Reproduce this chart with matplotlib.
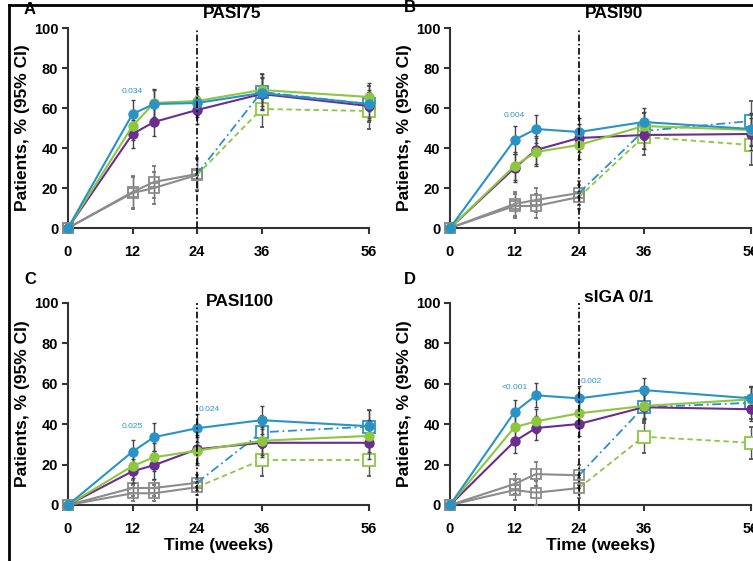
import numpy as np
import matplotlib.pyplot as plt
from matplotlib.lines import Line2D

plt.rcParams['font.family'] = ['Liberation Sans', 'DejaVu Sans']
plt.rcParams['font.weight'] = 'bold'

# ==========================================================
# DATA
# ==========================================================

weeks_main = [0, 12, 16, 24, 36, 56]
weeks_placebo = [0, 12, 16, 24]
weeks_switch = [24, 36, 56]
xticks = [0, 12, 24, 36, 56]

titles = ['PASI75', 'PASI90', 'PASI100', 'sIGA 0/1']
panel_letters = ['A', 'B', 'C', 'D']

blue_vals = [
    [0, 57, 62, 62.5, 67.5, 62],
    [0, 44, 49.5, 48, 53, 49.5],
    [0, 26.4, 33.6, 38, 42, 39],
    [0, 46, 54.3, 52.8, 56.9, 52.8],
]
green_vals = [
    [0, 51, 62.5, 63.5, 69, 65.5],
    [0, 31, 38, 41.5, 51, 49],
    [0, 19.3, 23.6, 26.9, 31.8, 34.2],
    [0, 38.5, 41.4, 45.4, 49, 52.3],
]
purple_vals = [
    [0, 47, 53, 59, 67, 61],
    [0, 30, 39, 45, 46.5, 47],
    [0, 16.7, 19.7, 27.6, 30.8, 30.8],
    [0, 31.5, 38.1, 40.1, 48.4, 47.4],
]
placebo_a = [
    [0, 18, 23, 27],
    [0, 12, 14, 17.5],
    [0, 8.4, 8.4, 11],
    [0, 10.4, 15.3, 14.7],
]
placebo_b = [
    [0, 17.5, 20, 26.5],
    [0, 11, 11, 15.5],
    [0, 5.8, 5.8, 8.8],
    [0, 7.4, 6.1, 8.4],
]
switch_blue = [
    [27, 68, 62],
    [17.5, 48.5, 53.5],
    [11, 36, 38.8],
    [14.7, 48.4, 50.6],
]
switch_green = [
    [26.5, 59.5, 58.5],
    [15.5, 45.5, 41.5],
    [8.8, 22.3, 22.3],
    [8.4, 33.8, 30.8],
]

# CI half-widths
ci_active = [
    [0, 7, 7, 7, 8, 7],
    [0, 7, 7, 7, 7, 8],
    [0, 6, 7, 7, 7, 8],
    [0, 6, 6, 6, 6, 6],
]
ci_placebo = [
    [0, 8, 8, 8],
    [0, 6, 6, 6],
    [0, 4, 4, 4],
    [0, 5, 6, 5],
]
ci_switch = [
    [0, 9, 9],
    [0, 9, 10],
    [0, 8, 8],
    [0, 8, 8],
]

# p-value labels: (x, y, text)
pvals = [
    [(12, 66.5, '0.034')],
    [(12, 54.5, '0.004')],
    [(12, 37, '0.025'), (24.3, 45.5, '0.024')],
    [(12, 56.5, '<0.001'), (24.3, 59.5, '0.002')],
]

# ==========================================================
# STYLE
# ==========================================================

BLUE = '#2a93c6'
GREEN = '#8dc63f'
PURPLE = '#6b2d8f'
GRAY = '#8c8c8c'
AXIS = '#333333'

fig = plt.figure(figsize=(7.53, 5.61), dpi=100)

W, H = 753.0, 561.0
axes_px = [
    (68, 228, 200),
    (450, 228, 200),
    (68, 505, 202),
    (450, 505, 202),
]
width_px = 301

for k in range(4):
    x0, y0, h = axes_px[k]
    ax = fig.add_axes([x0 / W, 1 - y0 / H, width_px / W, h / H])

    err_kw = dict(elinewidth=1.0, capsize=1.5, capthick=1.0, clip_on=False)

    # placebo arms
    for vals, ci in [(placebo_a[k], ci_placebo[k]), (placebo_b[k], ci_placebo[k])]:
        ax.errorbar(weeks_placebo, vals, yerr=ci, color=GRAY, ecolor='#777777',
                    marker='s', markersize=7, markerfacecolor='none',
                    markeredgewidth=1.3, linewidth=1.5, zorder=3, **err_kw)

    # switch arms
    ax.errorbar(weeks_switch, switch_blue[k], yerr=ci_switch[k], color=BLUE,
                ecolor='#555555', linestyle=(0, (5, 2, 1, 2)), marker='s',
                markersize=8, markerfacecolor='white', markeredgewidth=1.3,
                linewidth=1.3, zorder=4, markevery=[1, 2], **err_kw)
    ax.errorbar(weeks_switch, switch_green[k], yerr=ci_switch[k], color=GREEN,
                ecolor='#555555', linestyle=(0, (3, 2)), marker='s',
                markersize=8, markerfacecolor='white', markeredgewidth=1.3,
                linewidth=1.3, zorder=4, markevery=[1, 2], **err_kw)

    # active arms
    for vals, col in [(purple_vals[k], PURPLE), (green_vals[k], GREEN),
                      (blue_vals[k], BLUE)]:
        ax.errorbar(weeks_main, vals, yerr=ci_active[k], color=col,
                    ecolor='#444444', marker='o', markersize=6.5,
                    linewidth=1.5, zorder=5, **err_kw)

    # week 24 line
    ax.axvline(24, ymin=0, ymax=1.0, color='black', linestyle=(0, (4, 1.5, 1, 1.5)),
               linewidth=1.2, zorder=6)

    for x, y, t in pvals[k]:
        ax.text(x, y, t, color=BLUE, fontsize=6, fontweight='normal',
                ha='center' if x == 12 else 'left', va='bottom')

    ax.set_xlim(0, 56)
    ax.set_ylim(0, 100)
    ax.set_xticks(xticks)
    ax.set_yticks(np.arange(0, 101, 20))
    ax.spines['top'].set_visible(False)
    ax.spines['right'].set_visible(False)
    for s in ['left', 'bottom']:
        ax.spines[s].set_linewidth(1.5)
        ax.spines[s].set_color(AXIS)
    ax.tick_params(width=1.5, length=4, color=AXIS, labelsize=10.5, pad=3)
    ax.tick_params(axis='x', pad=8)
    ax.set_ylabel('Patients, % (95% CI)', fontsize=12.5, fontweight='bold',
                  labelpad=3)
    if k >= 2:
        ax.set_xlabel('Time (weeks)', fontsize=12.5, fontweight='bold',
                      labelpad=2)

# titles and panel letters
fig.text(232 / W, 1 - 13 / H, titles[0], fontsize=12.5, fontweight='bold',
         ha='center', va='center')
fig.text(614 / W, 1 - 13 / H, titles[1], fontsize=12.5, fontweight='bold',
         ha='center', va='center')
fig.text(206 / W, 1 - 302 / H, titles[2], fontsize=12.5, fontweight='bold',
         ha='left', va='center')
fig.text(584 / W, 1 - 297 / H, titles[3], fontsize=12.5, fontweight='bold',
         ha='left', va='center')

fig.text(24 / W, 1 - 9 / H, panel_letters[0], fontsize=12, fontweight='bold',
         ha='left', va='center')
fig.text(404 / W, 1 - 7 / H, panel_letters[1], fontsize=12, fontweight='bold',
         ha='left', va='center')
fig.text(24 / W, 1 - 280 / H, panel_letters[2], fontsize=12, fontweight='bold',
         ha='left', va='center')
fig.text(404 / W, 1 - 280 / H, panel_letters[3], fontsize=12, fontweight='bold',
         ha='left', va='center')

# outer frame
fig.add_artist(Line2D([9 / W, 1], [1 - 5 / H, 1 - 5 / H], color='black',
                      linewidth=2, transform=fig.transFigure))
fig.add_artist(Line2D([9 / W, 9 / W], [0, 1 - 5 / H], color='black',
                      linewidth=2, transform=fig.transFigure))

fig.savefig('out.png', dpi=100)
